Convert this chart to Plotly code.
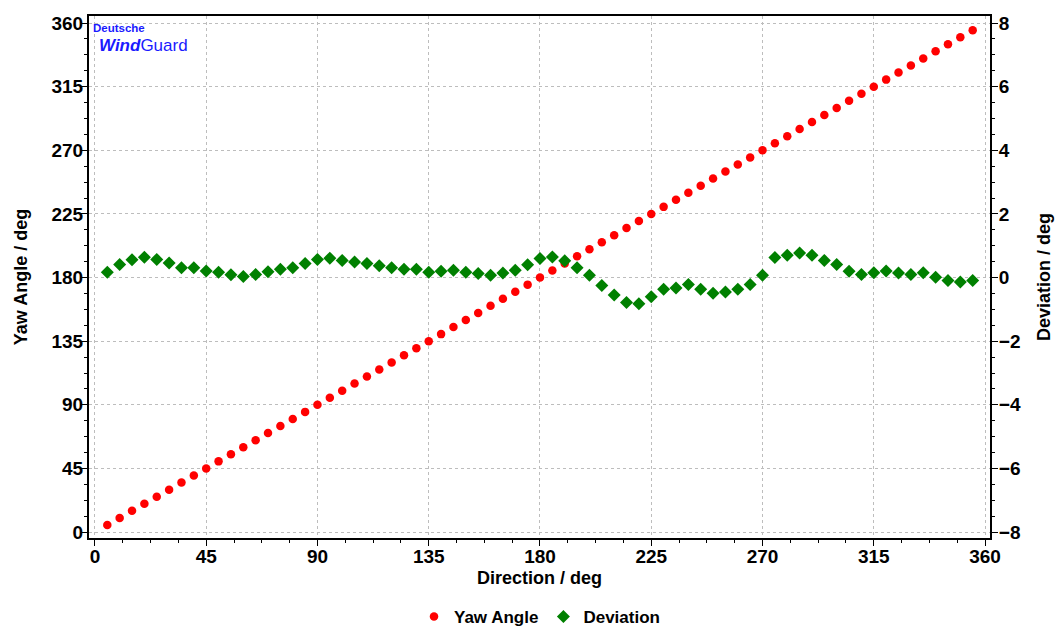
import plotly.graph_objects as go

direction = [5, 10, 15, 20, 25, 30, 35, 40, 45, 50, 55, 60, 65, 70, 75, 80, 85, 90, 95, 100,
             105, 110, 115, 120, 125, 130, 135, 140, 145, 150, 155, 160, 165, 170, 175, 180,
             185, 190, 195, 200, 205, 210, 215, 220, 225, 230, 235, 240, 245, 250, 255, 260,
             265, 270, 275, 280, 285, 290, 295, 300, 305, 310, 315, 320, 325, 330, 335, 340,
             345, 350, 355]
yaw_angle = [5, 10, 15, 20, 25, 30, 35, 40, 45, 50, 55, 60, 65, 70, 75, 80, 85, 90, 95, 100,
             105, 110, 115, 120, 125, 130, 135, 140, 145, 150, 155, 160, 165, 170, 175, 180,
             185, 190, 195, 200, 205, 210, 215, 220, 225, 230, 235, 240, 245, 250, 255, 260,
             265, 270, 275, 280, 285, 290, 295, 300, 305, 310, 315, 320, 325, 330, 335, 340,
             345, 350, 355]
deviation = [0.17, 0.41, 0.56, 0.64, 0.57, 0.46, 0.31, 0.31, 0.21, 0.17, 0.085, 0.03, 0.10,
             0.18, 0.26, 0.31, 0.44, 0.57, 0.61, 0.54, 0.49, 0.44, 0.37, 0.31, 0.26, 0.26,
             0.17, 0.20, 0.23, 0.17, 0.13, 0.075, 0.14, 0.23, 0.40, 0.60, 0.65, 0.53, 0.31,
             0.075, -0.25, -0.55, -0.78, -0.82, -0.60, -0.37, -0.33, -0.22, -0.37, -0.49,
             -0.45, -0.37, -0.22, 0.075, 0.63, 0.70, 0.77, 0.70, 0.54, 0.41, 0.20, 0.10,
             0.15, 0.21, 0.14, 0.10, 0.15, 0.01, -0.09, -0.14, -0.09]

x_ticks = [0, 45, 90, 135, 180, 225, 270, 315, 360]
y_ticks = [0, 45, 90, 135, 180, 225, 270, 315, 360]
dev_ticks = [-8, -6, -4, -2, 0, 2, 4, 6, 8]

FONT = "Liberation Sans, Arial, sans-serif"
tickfont = dict(family=FONT, size=19, color="black", weight="bold")
titlefont = dict(family=FONT, size=18, color="black", weight="bold")
GRID = "#bdbdbd"

fig = go.Figure()
fig.add_trace(go.Scatter(x=direction, y=yaw_angle, mode="markers", name="Yaw Angle",
                         marker=dict(color="#ff0000", size=8.5, symbol="circle")))
fig.add_trace(go.Scatter(x=direction, y=deviation, mode="markers", name="Deviation",
                         yaxis="y2",
                         marker=dict(color="#008000", size=10, symbol="diamond")))

y_lo, y_hi = -4.2, 365
fig.update_layout(
    width=1062, height=626,
    margin=dict(l=89, r=72, t=16, b=88, autoexpand=False),
    plot_bgcolor="white", paper_bgcolor="white",
    showlegend=True,
    legend=dict(orientation="h", x=0.5, xanchor="center",
                yref="container", y=1 - 617 / 626, yanchor="middle",
                font=dict(family=FONT, size=17, color="black", weight="bold")),
    xaxis=dict(range=[-2.4, 362], tickvals=x_ticks, tickfont=tickfont, automargin=False,
               ticklabelstandoff=-6,
               title=dict(text="Direction / deg", font=titlefont, standoff=6),
               showline=True, linecolor="black", linewidth=2, mirror=True,
               ticks="outside", ticklen=6, tickwidth=1, tickcolor="black",
               showgrid=True, gridcolor=GRID, griddash="dot", gridwidth=1,
               zeroline=False,
               minor=dict(dtick=11.25, tick0=0, ticks="outside", ticklen=3,
                          tickcolor="black", showgrid=False)),
    yaxis=dict(range=[y_lo, y_hi], tickvals=y_ticks, tickfont=tickfont, automargin=False,
               ticklabelstandoff=-6,
               title=dict(text="Yaw Angle / deg", font=titlefont, standoff=19),
               showline=True, linecolor="black", linewidth=2, mirror=True,
               ticks="outside", ticklen=6, tickwidth=1, tickcolor="black",
               showgrid=True, gridcolor=GRID, griddash="dot", gridwidth=1,
               zeroline=False,
               minor=dict(dtick=11.25, tick0=0, ticks="outside", ticklen=3,
                          tickcolor="black", showgrid=False)),
    yaxis2=dict(range=[(y_lo - 180) / 22.5, (y_hi - 180) / 22.5], tickvals=dev_ticks,
                tickfont=tickfont, overlaying="y", side="right", automargin=False,
                ticklabelstandoff=-3,
                title=dict(text="Deviation / deg", font=titlefont, standoff=18),
                showline=True, linecolor="black", linewidth=2,
                ticks="outside", ticklen=6, tickwidth=1, tickcolor="black",
                showgrid=False, zeroline=False,
                minor=dict(dtick=0.5, tick0=0, ticks="outside", ticklen=3,
                           tickcolor="black")),
)

fig.add_annotation(xref="paper", yref="paper", x=0.0, y=1.0, xanchor="left", yanchor="middle",
                   xshift=3, yshift=-11.5, borderpad=0,
                   text="<b>Deutsche</b>", showarrow=False,
                   font=dict(family=FONT, size=11.5, color="#1a1aff"))
fig.add_annotation(xref="paper", yref="paper", x=0.0, y=1.0, xanchor="left", yanchor="middle",
                   xshift=9, yshift=-29.5, borderpad=0,
                   text="<b><i>Wind</i></b>Guard", showarrow=False,
                   font=dict(family=FONT, size=17, color="#1a1aff"))

fig.write_html("out.html", config={"displayModeBar": False},
               post_script="document.body.style.margin='0px';")
